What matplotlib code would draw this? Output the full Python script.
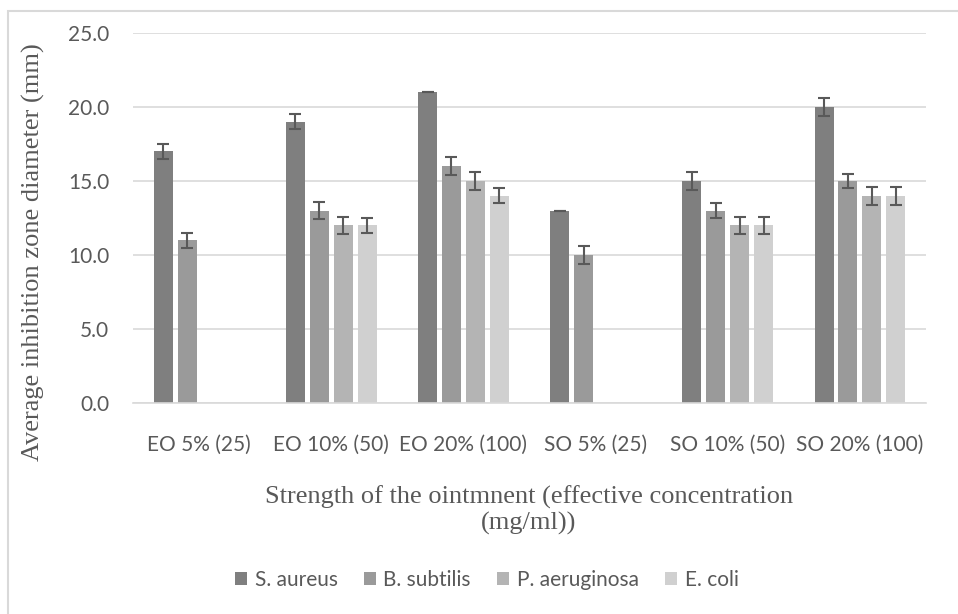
import matplotlib.pyplot as plt
import numpy as np
from matplotlib.patches import Rectangle

categories = ['EO 5% (25)', 'EO 10% (50)', 'EO 20% (100)', 'SO 5% (25)', 'SO 10% (50)', 'SO 20% (100)']
series = ['S. aureus', 'B. subtilis', 'P. aeruginosa', 'E. coli']
s_aureus = [17, 19, 21, 13, 15, 20]
b_subtilis = [11, 13, 16, 10, 13, 15]
p_aeruginosa = [0, 12, 15, 0, 12, 14]
e_coli = [0, 12, 14, 0, 12, 14]
s_aureus_err = [0.5, 0.5, 0.0, 0.0, 0.6, 0.6]
b_subtilis_err = [0.5, 0.6, 0.6, 0.6, 0.5, 0.5]
p_aeruginosa_err = [0, 0.6, 0.6, 0, 0.6, 0.6]
e_coli_err = [0, 0.5, 0.5, 0, 0.6, 0.6]

values = [s_aureus, b_subtilis, p_aeruginosa, e_coli]
errors = [s_aureus_err, b_subtilis_err, p_aeruginosa_err, e_coli_err]
colors = ['#7f7f7f', '#9a9a9a', '#b4b4b4', '#d0d0d0']

W, H = 958, 614
fig = plt.figure(figsize=(W / 100, H / 100), dpi=100)
# chart border (only top and left edges fall inside the image)
fig.patches.append(Rectangle((8/W, -0.1), 1.2, 1.1 - 11/H, transform=fig.transFigure,
                             fill=False, edgecolor='#d9d9d9', linewidth=1.5))
ax = fig.add_axes([133/W, (H - 403)/H, 793/W, 370/H])

x = np.arange(len(categories))
step = 0.181
width = 0.144
for i, (vals, errs) in enumerate(zip(values, errors)):
    xs = x + (i - 1.5) * step
    v = np.array(vals, dtype=float)
    e = np.array(errs, dtype=float)
    ax.bar(xs, v, width, color=colors[i], label=series[i], zorder=2)
    mask = v > 0
    ax.errorbar(xs[mask], v[mask], yerr=e[mask], fmt='none', ecolor='#595959',
                elinewidth=1.5, capsize=4.5, capthick=1.5, zorder=3)

ax.set_xlim(-0.5, len(categories) - 0.5)
ax.set_ylim(0, 25)
ticks = np.arange(0, 25.1, 5)
ax.set_yticks(ticks)
ax.set_yticklabels([f'{t:.1f}' for t in ticks])
ax.set_xticks(x)
ax.set_xticklabels(categories)
ax.yaxis.grid(True, color='#d9d9d9', linewidth=1.2, zorder=0)
ax.set_axisbelow(True)
for s in ['top', 'right', 'left']:
    ax.spines[s].set_visible(False)
ax.spines['bottom'].set_color('#d9d9d9')
ax.spines['bottom'].set_linewidth(1.2)
ax.tick_params(axis='both', length=0, labelsize=15, labelcolor='#595959')
ax.tick_params(axis='y', pad=17)
ax.tick_params(axis='x', pad=23)
for lab in ax.get_xticklabels() + ax.get_yticklabels():
    lab.set_family('Lato')

fig.text(33/W, (H - 252)/H, 'Average inhibition zone diameter (mm)', rotation=90,
         ha='center', va='center', family='Liberation Serif', fontsize=19, color='#595959')
fig.text(529/W, (H - 510)/H, 'Strength of the ointmnent (effective concentration\n(mg/ml))',
         ha='center', va='center', family='Liberation Serif', fontsize=19,
         color='#595959', linespacing=1.15)

leg = fig.legend(loc='center', bbox_to_anchor=(0.508, (H - 580)/H), ncol=4, frameon=False,
                 prop={'family': 'Lato', 'size': 15}, handlelength=0.6,
                 handleheight=0.6, columnspacing=1.25, handletextpad=0.35)
for t in leg.get_texts():
    t.set_color('#595959')

fig.savefig('out.png', dpi=100)
